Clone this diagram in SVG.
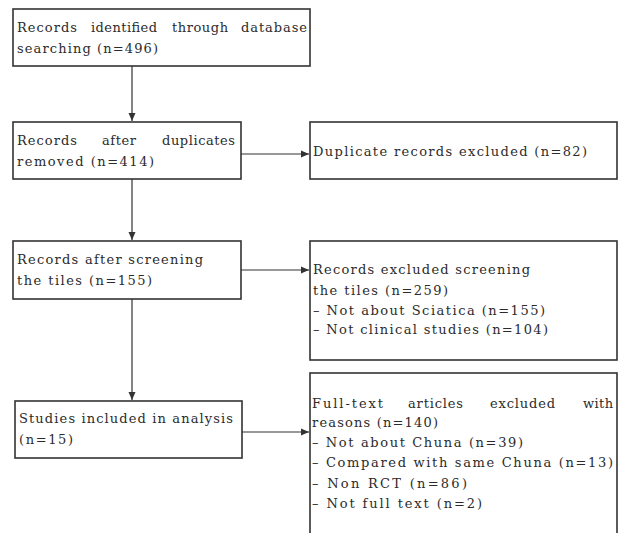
<svg xmlns="http://www.w3.org/2000/svg" width="621" height="533" viewBox="0 0 621 533">
<style>
.box{fill:#fff;stroke:#333;stroke-width:1.6}
.t{font-family:"DejaVu Serif","Liberation Serif",serif;font-size:13px;fill:#2b2b2b}
.c{stroke:#333;stroke-width:1.2;fill:none}
</style>
<defs>
<marker id="ah" markerUnits="userSpaceOnUse" markerWidth="9" markerHeight="8" refX="8" refY="4" orient="auto">
<path d="M0,0.5 L8,4 L0,7.5 z" fill="#333"/>
</marker>
</defs>
<rect width="621" height="533" fill="#fff"/>
<g id="connectors">
<line class="c" x1="132" y1="66" x2="132" y2="121" marker-end="url(#ah)"/>
<line class="c" x1="132" y1="179" x2="132" y2="240" marker-end="url(#ah)"/>
<line class="c" x1="132" y1="299" x2="132" y2="400" marker-end="url(#ah)"/>
<line class="c" x1="241" y1="154" x2="309" y2="154" marker-end="url(#ah)"/>
<line class="c" x1="241" y1="270" x2="309" y2="270" marker-end="url(#ah)"/>
<line class="c" x1="242" y1="432" x2="309" y2="432" marker-end="url(#ah)"/>
</g>
<g id="n1">
<rect class="box" x="13" y="9" width="297" height="57"/>
<text class="t" x="17" y="32" textLength="60" lengthAdjust="spacing">Records</text>
<text class="t" x="91" y="32" textLength="66" lengthAdjust="spacing">identified</text>
<text class="t" x="172" y="32" textLength="56" lengthAdjust="spacing">through</text>
<text class="t" x="241" y="32" textLength="66" lengthAdjust="spacing">database</text>
<text class="t" x="17" y="53" textLength="141" lengthAdjust="spacing">searching (n=496)</text>
</g>
<g id="n2">
<rect class="box" x="13" y="122" width="228" height="57"/>
<text class="t" x="17" y="145" textLength="60" lengthAdjust="spacing">Records</text>
<text class="t" x="102" y="145" textLength="34" lengthAdjust="spacing">after</text>
<text class="t" x="162" y="145" textLength="73" lengthAdjust="spacing">duplicates</text>
<text class="t" x="17" y="166" textLength="137" lengthAdjust="spacing">removed (n=414)</text>
</g>
<g id="n2x">
<rect class="box" x="310" y="122" width="307" height="57"/>
<text class="t" x="313" y="156" textLength="274" lengthAdjust="spacing">Duplicate records excluded (n=82)</text>
</g>
<g id="n3">
<rect class="box" x="13" y="241" width="228" height="58"/>
<text class="t" x="17" y="264" textLength="186" lengthAdjust="spacing">Records after screening</text>
<text class="t" x="17" y="285" textLength="135" lengthAdjust="spacing">the tiles (n=155)</text>
</g>
<g id="n3x">
<rect class="box" x="310" y="241" width="307" height="119"/>
<text class="t" x="313" y="274" textLength="217" lengthAdjust="spacing">Records excluded screening</text>
<text class="t" x="313" y="295" textLength="135" lengthAdjust="spacing">the tiles (n=259)</text>
<text class="t" x="313" y="315" textLength="232" lengthAdjust="spacing">– Not about Sciatica (n=155)</text>
<text class="t" x="313" y="334" textLength="235" lengthAdjust="spacing">– Not clinical studies (n=104)</text>
</g>
<g id="n4">
<rect class="box" x="15" y="401" width="227" height="57"/>
<text class="t" x="19" y="423" textLength="214" lengthAdjust="spacing">Studies included in analysis</text>
<text class="t" x="19" y="444" textLength="54" lengthAdjust="spacing">(n=15)</text>
</g>
<g id="n4x">
<rect class="box" x="310" y="373" width="307" height="170"/>
<text class="t" x="312" y="408" textLength="71" lengthAdjust="spacing">Full-text</text>
<text class="t" x="408" y="408" textLength="55" lengthAdjust="spacing">articles</text>
<text class="t" x="490" y="408" textLength="65" lengthAdjust="spacing">excluded</text>
<text class="t" x="583" y="408" textLength="30" lengthAdjust="spacing">with</text>
<text class="t" x="312" y="427" textLength="126" lengthAdjust="spacing">reasons (n=140)</text>
<text class="t" x="312" y="447" textLength="211" lengthAdjust="spacing">– Not about Chuna (n=39)</text>
<text class="t" x="312" y="467" textLength="301" lengthAdjust="spacing">– Compared with same Chuna (n=13)</text>
<text class="t" x="312" y="488" textLength="155" lengthAdjust="spacing">– Non RCT (n=86)</text>
<text class="t" x="312" y="508" textLength="170" lengthAdjust="spacing">– Not full text (n=2)</text>
</g>
</svg>
